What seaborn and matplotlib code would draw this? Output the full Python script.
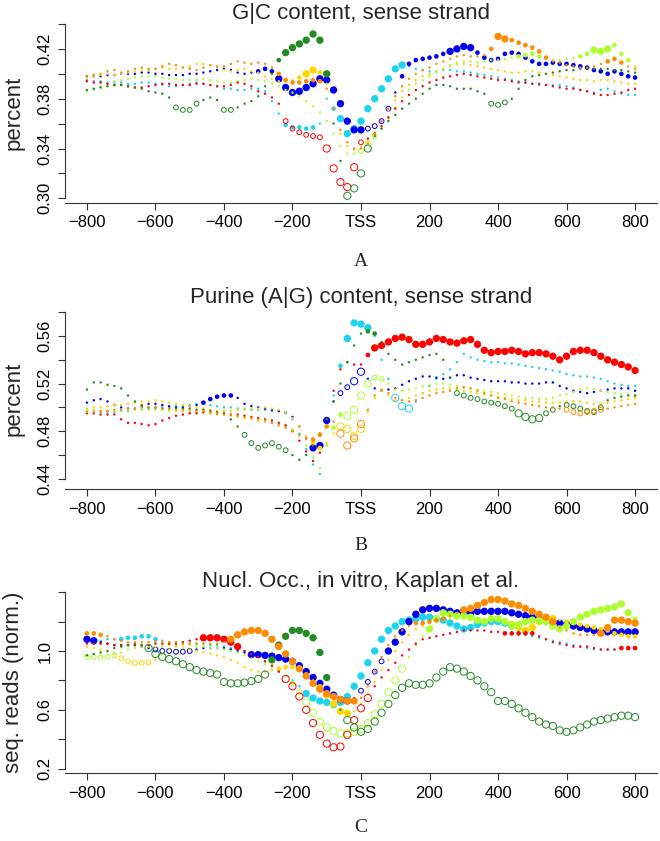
import numpy as np
import pandas as pd
import matplotlib
matplotlib.use('Agg')
import matplotlib.pyplot as plt
import seaborn as sns

# positions relative to TSS (bp)
positions = list(range(-800, 801, 20))
series_names = ['red', 'orange', 'gold', 'lime', 'green', 'cyan', 'blue']
palette = {'red': '#FF0000', 'orange': '#FF8C00', 'gold': '#FFD700', 'lime': '#ADFF2F',
           'green': '#228B22', 'cyan': '#1CD3F2', 'blue': '#0000EE'}
draw_order = ['cyan', 'blue', 'gold', 'lime', 'red', 'green', 'orange']

xtick_pos = [-800, -600, -400, -200, 0, 200, 400, 600, 800]
xtick_labels = ['\u2212800', '\u2212600', '\u2212400', '\u2212200', 'TSS', '200', '400', '600', '800']

# ---------------- A: G|C content ----------------
gc_red = [0.394, 0.393, 0.393, 0.392, 0.391, 0.391, 0.390, 0.389, 0.389, 0.390,
          0.391, 0.392, 0.392, 0.391, 0.391, 0.391, 0.392, 0.392, 0.391, 0.390,
          0.390, 0.391, 0.393, 0.392, 0.390, 0.386, 0.384, 0.381, 0.376, 0.362,
          0.356, 0.353, 0.351, 0.350, 0.349, 0.340, 0.324, 0.313, 0.309, 0.325,
          0.345, 0.348, 0.352, 0.358, 0.365, 0.372, 0.378, 0.383, 0.387, 0.390,
          0.393, 0.395, 0.397, 0.398, 0.399, 0.400, 0.399, 0.398, 0.397, 0.396,
          0.395, 0.395, 0.394, 0.393, 0.393, 0.392, 0.392, 0.391, 0.390, 0.389,
          0.388, 0.388, 0.387, 0.386, 0.384, 0.383, 0.383, 0.384, 0.385, 0.387,
          0.388]
gc_orange = [0.398, 0.399, 0.400, 0.402, 0.403, 0.401, 0.402, 0.404, 0.405, 0.404,
             0.404, 0.406, 0.408, 0.407, 0.405, 0.404, 0.403, 0.405, 0.407, 0.406,
             0.406, 0.408, 0.410, 0.409, 0.408, 0.409, 0.408, 0.405, 0.400, 0.395,
             0.393, 0.393, 0.394, 0.395, 0.394, 0.388, 0.372, 0.355, 0.345, 0.340,
             0.340, 0.344, 0.352, 0.362, 0.372, 0.382, 0.390, 0.396, 0.400, 0.403,
             0.405, 0.408, 0.410, 0.412, 0.414, 0.415, 0.414, 0.414, 0.415, 0.420,
             0.430, 0.428, 0.427, 0.425, 0.423, 0.421, 0.418, 0.413, 0.410, 0.409,
             0.407, 0.406, 0.405, 0.405, 0.406, 0.408, 0.410, 0.412, 0.409, 0.406,
             0.404]
gc_gold = [0.397, 0.398, 0.399, 0.400, 0.399, 0.400, 0.401, 0.402, 0.403, 0.403,
           0.404, 0.405, 0.404, 0.404, 0.405, 0.406, 0.408, 0.408, 0.407, 0.405,
           0.403, 0.402, 0.403, 0.404, 0.402, 0.401, 0.398, 0.396, 0.394, 0.393,
           0.395, 0.397, 0.400, 0.403, 0.401, 0.392, 0.372, 0.352, 0.342, 0.339,
           0.341, 0.346, 0.353, 0.362, 0.371, 0.379, 0.386, 0.391, 0.395, 0.398,
           0.400, 0.402, 0.404, 0.406, 0.408, 0.408, 0.407, 0.406, 0.405, 0.404,
           0.403, 0.402, 0.401, 0.401, 0.402, 0.402, 0.401, 0.400, 0.399, 0.398,
           0.397, 0.396, 0.395, 0.395, 0.394, 0.395, 0.395, 0.394, 0.393, 0.392,
           0.392]
gc_lime = [0.386, 0.387, 0.390, 0.392, 0.394, 0.395, 0.396, 0.397, 0.398, 0.398,
           0.398, 0.397, 0.396, 0.396, 0.395, 0.395, 0.395, 0.396, 0.395, 0.394,
           0.393, 0.393, 0.394, 0.395, 0.396, 0.395, 0.394, 0.392, 0.390, 0.387,
           0.385, 0.382, 0.378, 0.374, 0.369, 0.362, 0.352, 0.342, 0.336, 0.336,
           0.338, 0.344, 0.350, 0.356, 0.364, 0.373, 0.381, 0.387, 0.392, 0.395,
           0.398, 0.401, 0.404, 0.407, 0.409, 0.410, 0.410, 0.409, 0.410, 0.411,
           0.411, 0.412, 0.413, 0.414, 0.415, 0.416, 0.414, 0.412, 0.411, 0.411,
           0.412, 0.413, 0.414, 0.416, 0.419, 0.418, 0.420, 0.423, 0.416, 0.411,
           0.406]
gc_green = [0.387, 0.388, 0.389, 0.390, 0.391, 0.391, 0.390, 0.389, 0.388, 0.386,
            0.385, 0.384, 0.381, 0.373, 0.371, 0.371, 0.376, 0.379, 0.381, 0.379,
            0.371, 0.371, 0.373, 0.376, 0.378, 0.382, 0.390, 0.400, 0.411, 0.417,
            0.421, 0.424, 0.427, 0.432, 0.427, 0.400, 0.360, 0.330, 0.302, 0.308,
            0.320, 0.340, 0.350, 0.356, 0.362, 0.367, 0.372, 0.376, 0.380, 0.384,
            0.388, 0.391, 0.391, 0.390, 0.388, 0.388, 0.388, 0.386, 0.384, 0.376,
            0.375, 0.377, 0.380, 0.388, 0.395, 0.398, 0.399, 0.400, 0.401, 0.402,
            0.403, 0.403, 0.404, 0.404, 0.404, 0.404, 0.404, 0.403, 0.403, 0.402,
            0.401]
gc_cyan = [0.395, 0.394, 0.394, 0.393, 0.393, 0.393, 0.392, 0.392, 0.393, 0.393,
           0.392, 0.391, 0.390, 0.390, 0.391, 0.392, 0.393, 0.392, 0.391, 0.390,
           0.388, 0.388, 0.387, 0.387, 0.388, 0.388, 0.386, 0.378, 0.368, 0.359,
           0.357, 0.357, 0.356, 0.357, 0.360, 0.380, 0.372, 0.364, 0.352, 0.356,
           0.362, 0.372, 0.380, 0.388, 0.396, 0.404, 0.407, 0.406, 0.404, 0.403,
           0.402, 0.402, 0.403, 0.403, 0.402, 0.402, 0.401, 0.400, 0.399, 0.398,
           0.397, 0.396, 0.395, 0.394, 0.393, 0.392, 0.391, 0.391, 0.391, 0.391,
           0.390, 0.389, 0.387, 0.386, 0.385, 0.387, 0.388, 0.386, 0.384, 0.383,
           0.383]
gc_blue = [0.398, 0.398, 0.398, 0.399, 0.399, 0.400, 0.400, 0.400, 0.401, 0.401,
           0.400, 0.400, 0.399, 0.399, 0.399, 0.400, 0.400, 0.401, 0.402, 0.403,
           0.404, 0.403, 0.401, 0.400, 0.401, 0.402, 0.404, 0.402, 0.396, 0.389,
           0.385, 0.386, 0.389, 0.392, 0.396, 0.395, 0.387, 0.376, 0.362, 0.355,
           0.355, 0.356, 0.358, 0.362, 0.372, 0.385, 0.398, 0.408, 0.411, 0.412,
           0.413, 0.414, 0.416, 0.418, 0.420, 0.422, 0.421, 0.417, 0.413, 0.411,
           0.412, 0.416, 0.417, 0.416, 0.413, 0.410, 0.408, 0.408, 0.409, 0.408,
           0.408, 0.407, 0.406, 0.405, 0.403, 0.402, 0.400, 0.402, 0.400, 0.398,
           0.397]
# significance per stretch: >0 enriched (filled), <0 depleted (open), 0 n.s.
gc_signif = {
    'red': [(-220, -120, -1), (-100, -20, -2), (0, 0, -1)],
    'orange': [(-240, -120, 1), (380, 540, 1), (400, 420, 2), (720, 760, 1)],
    'gold': [(-180, -120, 1), (-160, -140, 2)],
    'lime': [(0, 40, -1), (460, 520, 1), (640, 780, 1), (680, 720, 2)],
    'green': [(-540, -480, -1), (-400, -380, -1), (-240, -240, 1), (-220, -100, 2),
              (-40, 20, -2), (380, 420, -1)],
    'cyan': [(-220, -140, 1), (-80, -80, 1), (-60, 120, 2)],
    'blue': [(-300, -260, 1), (-240, 0, 2), (20, 80, -1), (120, 800, 1), (260, 320, 2)],
}

# ---------------- B: purine content ----------------
pu_red = [0.495, 0.495, 0.494, 0.494, 0.494, 0.490, 0.487, 0.487, 0.486, 0.485,
          0.486, 0.489, 0.491, 0.493, 0.494, 0.495, 0.495, 0.496, 0.496, 0.495,
          0.495, 0.494, 0.494, 0.493, 0.492, 0.491, 0.490, 0.489, 0.487, 0.485,
          0.480, 0.472, 0.463, 0.455, 0.462, 0.490, 0.514, 0.532, 0.538, 0.536,
          0.536, 0.544, 0.550, 0.552, 0.555, 0.558, 0.559, 0.557, 0.553, 0.553,
          0.555, 0.558, 0.557, 0.555, 0.554, 0.556, 0.557, 0.553, 0.548, 0.546,
          0.547, 0.547, 0.548, 0.547, 0.545, 0.546, 0.546, 0.545, 0.543, 0.540,
          0.543, 0.547, 0.548, 0.548, 0.546, 0.543, 0.540, 0.538, 0.536, 0.534,
          0.531]
pu_orange = [0.496, 0.496, 0.497, 0.497, 0.498, 0.498, 0.499, 0.499, 0.500, 0.500,
             0.500, 0.499, 0.499, 0.498, 0.498, 0.498, 0.497, 0.497, 0.496, 0.495,
             0.494, 0.494, 0.493, 0.492, 0.491, 0.490, 0.489, 0.487, 0.485, 0.483,
             0.480, 0.477, 0.474, 0.473, 0.477, 0.484, 0.488, 0.478, 0.468, 0.474,
             0.486, 0.498, 0.510, 0.515, 0.512, 0.508, 0.506, 0.505, 0.506, 0.508,
             0.510, 0.512, 0.513, 0.514, 0.516, 0.517, 0.516, 0.514, 0.512, 0.510,
             0.508, 0.507, 0.505, 0.504, 0.503, 0.502, 0.501, 0.500, 0.500, 0.499,
             0.498, 0.496, 0.495, 0.496, 0.497, 0.498, 0.499, 0.500, 0.501, 0.502,
             0.503]
pu_gold = [0.499, 0.500, 0.500, 0.501, 0.502, 0.502, 0.503, 0.504, 0.505, 0.505,
           0.506, 0.505, 0.504, 0.503, 0.502, 0.501, 0.500, 0.499, 0.498, 0.497,
           0.497, 0.497, 0.498, 0.498, 0.499, 0.499, 0.500, 0.499, 0.498, 0.496,
           0.491, 0.484, 0.476, 0.470, 0.466, 0.470, 0.478, 0.484, 0.482, 0.476,
           0.482, 0.496, 0.508, 0.514, 0.510, 0.506, 0.506, 0.508, 0.510, 0.512,
           0.514, 0.515, 0.516, 0.516, 0.515, 0.514, 0.513, 0.512, 0.511, 0.510,
           0.509, 0.508, 0.507, 0.506, 0.506, 0.505, 0.505, 0.504, 0.504, 0.504,
           0.505, 0.505, 0.505, 0.504, 0.503, 0.503, 0.504, 0.505, 0.506, 0.507,
           0.508]
pu_lime = [0.498, 0.498, 0.497, 0.497, 0.497, 0.497, 0.498, 0.498, 0.498, 0.498,
           0.498, 0.498, 0.497, 0.497, 0.497, 0.496, 0.496, 0.495, 0.495, 0.494,
           0.494, 0.493, 0.492, 0.491, 0.490, 0.489, 0.488, 0.487, 0.485, 0.484,
           0.482, 0.476, 0.468, 0.458, 0.449, 0.468, 0.483, 0.494, 0.493, 0.498,
           0.510, 0.520, 0.525, 0.524, 0.520, 0.515, 0.514, 0.515, 0.516, 0.518,
           0.519, 0.520, 0.520, 0.519, 0.518, 0.517, 0.516, 0.515, 0.514, 0.513,
           0.512, 0.511, 0.510, 0.509, 0.508, 0.508, 0.507, 0.507, 0.508, 0.510,
           0.511, 0.513, 0.515, 0.516, 0.515, 0.514, 0.513, 0.512, 0.511, 0.511,
           0.510]
pu_green = [0.515, 0.521, 0.521, 0.519, 0.518, 0.516, 0.510, 0.505, 0.502, 0.500,
            0.500, 0.499, 0.499, 0.499, 0.499, 0.499, 0.498, 0.498, 0.497, 0.496,
            0.495, 0.490, 0.484, 0.477, 0.470, 0.466, 0.468, 0.470, 0.467, 0.464,
            0.460, 0.456, 0.460, 0.468, 0.478, 0.490, 0.505, 0.520, 0.538, 0.552,
            0.562, 0.564, 0.562, 0.555, 0.545, 0.540, 0.536, 0.538, 0.540, 0.542,
            0.544, 0.545, 0.540, 0.525, 0.512, 0.510, 0.508, 0.507, 0.505, 0.504,
            0.503, 0.501, 0.499, 0.495, 0.492, 0.490, 0.491, 0.495, 0.498, 0.501,
            0.502, 0.501, 0.499, 0.497, 0.496, 0.500, 0.506, 0.508, 0.509, 0.510,
            0.510]
pu_cyan = [0.497, 0.497, 0.496, 0.496, 0.496, 0.497, 0.497, 0.498, 0.498, 0.499,
           0.499, 0.500, 0.500, 0.501, 0.501, 0.502, 0.503, 0.503, 0.502, 0.501,
           0.500, 0.500, 0.499, 0.499, 0.498, 0.498, 0.498, 0.497, 0.497, 0.495,
           0.490, 0.478, 0.465, 0.452, 0.444, 0.468, 0.510, 0.535, 0.558, 0.571,
           0.570, 0.567, 0.560, 0.540, 0.524, 0.508, 0.501, 0.499, 0.505, 0.512,
           0.518, 0.524, 0.528, 0.532, 0.538, 0.545, 0.542, 0.540, 0.539, 0.538,
           0.538, 0.537, 0.537, 0.536, 0.535, 0.534, 0.533, 0.532, 0.531, 0.530,
           0.528, 0.527, 0.526, 0.526, 0.525, 0.524, 0.522, 0.520, 0.519, 0.518,
           0.518]
pu_blue = [0.504, 0.506, 0.507, 0.505, 0.502, 0.500, 0.499, 0.499, 0.501, 0.503,
           0.503, 0.502, 0.501, 0.500, 0.500, 0.501, 0.502, 0.504, 0.507, 0.509,
           0.510, 0.510, 0.508, 0.503, 0.501, 0.500, 0.499, 0.498, 0.497, 0.496,
           0.492, 0.484, 0.474, 0.466, 0.468, 0.489, 0.505, 0.512, 0.517, 0.522,
           0.530, 0.524, 0.516, 0.514, 0.515, 0.516, 0.519, 0.522, 0.524, 0.526,
           0.526, 0.525, 0.524, 0.525, 0.527, 0.527, 0.525, 0.524, 0.523, 0.522,
           0.522, 0.522, 0.521, 0.521, 0.520, 0.520, 0.520, 0.521, 0.521, 0.518,
           0.516, 0.514, 0.513, 0.512, 0.513, 0.514, 0.515, 0.516, 0.516, 0.516,
           0.514]
pu_signif = {
    'red': [(20, 20, 1), (40, 800, 2)],
    'orange': [(-140, -100, 1), (-60, 0, -2), (600, 700, -1)],
    'gold': [(-140, -120, 1), (-60, 0, -2)],
    'lime': [(-80, -60, 1), (-40, 20, -2), (40, 60, -1)],
    'green': [(-340, -220, -1), (20, 40, 1), (280, 560, -1), (460, 520, -2), (600, 700, -1)],
    'cyan': [(-60, -60, 1), (-40, 20, 2), (100, 140, -2)],
    'blue': [(-460, -380, 1), (-140, -100, 2), (-60, -40, -1), (-20, 0, -2)],
}

# ---------------- C: nucleosome occupancy in vitro ----------------
nu_red = [1.05, 1.05, 1.05, 1.05, 1.04, 1.04, 1.04, 1.04, 1.04, 1.04,
          1.05, 1.05, 1.05, 1.05, 1.06, 1.07, 1.08, 1.09, 1.09, 1.09,
          1.08, 1.06, 1.03, 1.00, 0.98, 0.96, 0.93, 0.90, 0.86, 0.81,
          0.76, 0.69, 0.60, 0.51, 0.43, 0.37, 0.345, 0.35, 0.43, 0.53,
          0.61, 0.68, 0.76, 0.82, 0.87, 0.92, 0.97, 1.01, 1.05, 1.08,
          1.09, 1.10, 1.11, 1.12, 1.13, 1.14, 1.14, 1.14, 1.14, 1.13,
          1.13, 1.12, 1.12, 1.12, 1.12, 1.12, 1.10, 1.08, 1.06, 1.05,
          1.04, 1.03, 1.03, 1.03, 1.02, 1.01, 1.01, 1.01, 1.02, 1.02,
          1.02]
nu_orange = [1.12, 1.12, 1.11, 1.10, 1.08, 1.07, 1.06, 1.06, 1.06, 1.06,
             1.06, 1.06, 1.06, 1.06, 1.05, 1.05, 1.05, 1.05, 1.05, 1.05,
             1.06, 1.08, 1.11, 1.13, 1.14, 1.14, 1.12, 1.08, 1.03, 0.98,
             0.93, 0.88, 0.83, 0.78, 0.74, 0.71, 0.69, 0.67, 0.66, 0.66,
             0.68, 0.76, 0.86, 0.96, 1.04, 1.10, 1.14, 1.17, 1.19, 1.19,
             1.20, 1.21, 1.22, 1.24, 1.26, 1.28, 1.29, 1.31, 1.33, 1.35,
             1.35, 1.34, 1.32, 1.31, 1.29, 1.27, 1.25, 1.23, 1.20, 1.16,
             1.14, 1.12, 1.11, 1.11, 1.11, 1.12, 1.16, 1.21, 1.21, 1.20,
             1.19]
nu_gold = [1.03, 1.02, 1.01, 1.00, 0.98, 0.95, 0.93, 0.92, 0.92, 0.92,
           0.94, 0.98, 1.01, 1.03, 1.02, 1.01, 1.00, 0.99, 0.98, 0.97,
           0.96, 0.94, 0.92, 0.89, 0.87, 0.86, 0.86, 0.87, 0.88, 0.89,
           0.89, 0.87, 0.84, 0.80, 0.75, 0.70, 0.64, 0.59, 0.575, 0.59,
           0.64, 0.71, 0.79, 0.87, 0.94, 1.00, 1.06, 1.11, 1.15, 1.17,
           1.19, 1.20, 1.21, 1.22, 1.22, 1.22, 1.21, 1.20, 1.20, 1.20,
           1.20, 1.19, 1.18, 1.16, 1.14, 1.16, 1.20, 1.22, 1.22, 1.21,
           1.20, 1.19, 1.18, 1.17, 1.16, 1.15, 1.14, 1.12, 1.11, 1.10,
           1.10]
nu_lime = [0.96, 0.96, 0.955, 0.96, 0.97, 0.99, 1.01, 1.02, 1.03, 1.03,
           1.03, 1.03, 1.04, 1.04, 1.04, 1.04, 1.03, 1.03, 1.02, 1.02,
           1.01, 1.00, 0.99, 0.97, 0.95, 0.93, 0.91, 0.89, 0.86, 0.83,
           0.78, 0.72, 0.65, 0.58, 0.52, 0.48, 0.455, 0.44, 0.44, 0.45,
           0.47, 0.51, 0.57, 0.64, 0.72, 0.80, 0.88, 0.96, 1.04, 1.10,
           1.15, 1.22, 1.26, 1.25, 1.24, 1.24, 1.23, 1.21, 1.20, 1.22,
           1.22, 1.20, 1.17, 1.18, 1.20, 1.21, 1.21, 1.20, 1.17, 1.15,
           1.17, 1.20, 1.23, 1.25, 1.27, 1.28, 1.29, 1.30, 1.32, 1.26,
           1.22]
nu_green = [0.97, 0.98, 0.99, 1.00, 1.02, 1.03, 1.04, 1.05, 1.04, 1.02,
            0.98, 0.96, 0.945, 0.93, 0.91, 0.89, 0.87, 0.86, 0.85, 0.84,
            0.79, 0.78, 0.78, 0.785, 0.795, 0.81, 0.84, 0.94, 1.04, 1.10,
            1.14, 1.14, 1.12, 1.09, 0.99, 0.82, 0.70, 0.60, 0.53, 0.48,
            0.45, 0.47, 0.52, 0.58, 0.64, 0.70, 0.75, 0.78, 0.77, 0.77,
            0.78, 0.82, 0.86, 0.89, 0.88, 0.86, 0.83, 0.80, 0.76, 0.72,
            0.66, 0.66, 0.64, 0.61, 0.58, 0.55, 0.52, 0.50, 0.49, 0.46,
            0.45, 0.46, 0.48, 0.50, 0.52, 0.53, 0.54, 0.55, 0.56, 0.56,
            0.55]
nu_cyan = [1.06, 1.07, 1.07, 1.08, 1.08, 1.08, 1.09, 1.09, 1.10, 1.10,
           1.08, 1.07, 1.06, 1.06, 1.06, 1.05, 1.05, 1.05, 1.04, 1.04,
           1.03, 1.02, 1.01, 1.00, 0.98, 0.96, 0.93, 0.90, 0.86, 0.83,
           0.80, 0.76, 0.71, 0.68, 0.66, 0.65, 0.635, 0.65, 0.69, 0.76,
           0.83, 0.92, 1.00, 1.08, 1.14, 1.17, 1.20, 1.21, 1.22, 1.23,
           1.23, 1.22, 1.21, 1.19, 1.17, 1.15, 1.16, 1.18, 1.19, 1.20,
           1.20, 1.19, 1.17, 1.13, 1.11, 1.10, 1.09, 1.08, 1.07, 1.06,
           1.05, 1.04, 1.03, 1.02, 1.01, 1.01, 1.01, 1.01, 1.02, 1.02,
           1.02]
nu_blue = [1.08, 1.07, 1.06, 1.05, 1.04, 1.04, 1.04, 1.04, 1.03, 1.02,
           1.01, 1.00, 1.00, 0.995, 0.995, 1.00, 1.01, 1.02, 1.02, 1.02,
           1.02, 1.01, 1.00, 0.99, 0.975, 0.975, 0.97, 0.965, 0.955, 0.945,
           0.93, 0.90, 0.86, 0.82, 0.78, 0.74, 0.70, 0.67, 0.66, 0.68,
           0.73, 0.79, 0.86, 0.93, 1.00, 1.06, 1.13, 1.20, 1.25, 1.28,
           1.29, 1.29, 1.28, 1.27, 1.26, 1.26, 1.26, 1.27, 1.27, 1.27,
           1.27, 1.27, 1.26, 1.25, 1.24, 1.23, 1.22, 1.21, 1.20, 1.19,
           1.18, 1.17, 1.16, 1.15, 1.14, 1.13, 1.13, 1.13, 1.13, 1.13,
           1.13]
nu_signif = {
    'red': [(-460, -360, 2), (-220, 20, -2), (420, 500, 1), (760, 800, 1)],
    'orange': [(-800, -760, 1), (-380, -20, 2), (160, 240, 1), (300, 560, 2), (700, 800, 2)],
    'gold': [(-700, -620, -1), (-240, -160, 1), (-120, -40, 2), (440, 560, 2), (600, 800, 1)],
    'lime': [(-800, -720, -1), (-200, -180, -1), (-160, 120, -2), (200, 780, 2), (800, 800, 1)],
    'green': [(-620, -280, -2), (-260, -100, 2), (-40, 800, -2)],
    'cyan': [(-700, -600, 1), (-160, -60, 2), (-40, 440, 2)],
    'blue': [(-800, -780, 2), (-600, -500, -1), (-320, -40, 2), (0, 60, -1), (80, 800, 2)],
}

size_of = {0: 3, 1: 11, 2: 28, -1: 12, -2: 27}


def build_frame(values, signif):
    frames = []
    for name in series_names:
        vals = values[name]
        if len(vals) != len(positions):
            raise ValueError(f'{name}: {len(vals)} values')
        codes = np.zeros(len(positions), dtype=int)
        for a, b, c in signif.get(name, []):
            for i, p in enumerate(positions):
                if a <= p <= b:
                    codes[i] = c
        frames.append(pd.DataFrame({'series': name, 'pos': positions, 'val': vals, 'code': codes}))
    return pd.concat(frames, ignore_index=True)


def draw_panel(ax, df):
    for name in draw_order:
        sub = df[df.series == name]
        col = palette[name]
        for code in [0, -1, -2, 1, 2]:
            pts = sub[sub.code == code]
            if pts.empty:
                continue
            if code < 0:
                sns.scatterplot(data=pts, x='pos', y='val', ax=ax, s=size_of[code], color=col,
                                facecolor='none', edgecolor=col, linewidth=0.7, legend=False, zorder=3)
            else:
                sns.scatterplot(data=pts, x='pos', y='val', ax=ax, s=size_of[code], color=col,
                                edgecolor='none', linewidth=0, legend=False, zorder=3)


def style_axes(ax, ylim, yticks, ylabels, ybounds):
    ax.set_xlim(-864, 864)
    ax.set_ylim(*ylim)
    ax.set_xticks(xtick_pos)
    ax.set_xticklabels(xtick_labels)
    ax.set_yticks(yticks)
    ax.set_yticklabels(ylabels, rotation=90, va='center')
    ax.spines[['top', 'right']].set_visible(False)
    ax.spines['left'].set_bounds(*ybounds)
    for sp in ['left', 'bottom']:
        ax.spines[sp].set_color('#333333')
        ax.spines[sp].set_linewidth(0.8)
    ax.tick_params(axis='both', length=5, width=0.8, color='#333333', labelsize=12, pad=4,
                   labelcolor='black')
    ax.set_xlabel('')
    ax.set_ylabel('')
    ax.grid(False)


sns.set_style('ticks')
plt.rcParams['font.family'] = ['Liberation Sans', 'DejaVu Sans']

W, H = 660, 841
fig = plt.figure(figsize=(W / 100, H / 100), dpi=100)


def px_axes(top, bottom, left=65, right=657):
    return fig.add_axes([left / W, 1 - bottom / H, (right - left) / W, (bottom - top) / H])


ax_a = px_axes(24, 202.7)
ax_b = px_axes(308, 489.3)
ax_c = px_axes(590, 773.3)

gc = build_frame({'red': gc_red, 'orange': gc_orange, 'gold': gc_gold, 'lime': gc_lime,
                  'green': gc_green, 'cyan': gc_cyan, 'blue': gc_blue}, gc_signif)
pu = build_frame({'red': pu_red, 'orange': pu_orange, 'gold': pu_gold, 'lime': pu_lime,
                  'green': pu_green, 'cyan': pu_cyan, 'blue': pu_blue}, pu_signif)
nu = build_frame({'red': nu_red, 'orange': nu_orange, 'gold': nu_gold, 'lime': nu_lime,
                  'green': nu_green, 'cyan': nu_cyan, 'blue': nu_blue}, nu_signif)

draw_panel(ax_a, gc)
draw_panel(ax_b, pu)
draw_panel(ax_c, nu)

style_axes(ax_a, (0.29648, 0.43936), [0.30, 0.32, 0.34, 0.36, 0.38, 0.40, 0.42, 0.44],
           ['0.30', '', '0.34', '', '0.38', '', '0.42', ''], (0.30, 0.44))
style_axes(ax_b, (0.43118, 0.58353), [0.44, 0.46, 0.48, 0.50, 0.52, 0.54, 0.56, 0.58],
           ['0.44', '', '0.48', '', '0.52', '', '0.56', ''], (0.44, 0.58))
style_axes(ax_c, (0.168, 1.415), [0.2, 0.4, 0.6, 0.8, 1.0, 1.2, 1.4],
           ['0.2', '', '0.6', '', '1.0', '', ''], (0.2, 1.4))

titles = [('G|C content, sense strand', 13), ('Purine (A|G) content, sense strand', 298),
          ('Nucl. Occ., in vitro, Kaplan et al.', 582)]
for txt, y in titles:
    fig.text(361 / W, 1 - y / H, txt, ha='center', va='center', fontsize=16)

ylabels = [('percent', 113), ('percent', 399), ('seq. reads (norm.)', 682)]
for txt, y in ylabels:
    fig.text(14 / W, 1 - y / H, txt, ha='center', va='center', rotation=90, fontsize=16)

letters = [('A', 262), ('B', 546), ('C', 828)]
for txt, y in letters:
    fig.text(361 / W, 1 - y / H, txt, ha='center', va='center', fontsize=14,
             family=['Liberation Serif', 'DejaVu Serif'])

fig.savefig('out.png', dpi=100)
